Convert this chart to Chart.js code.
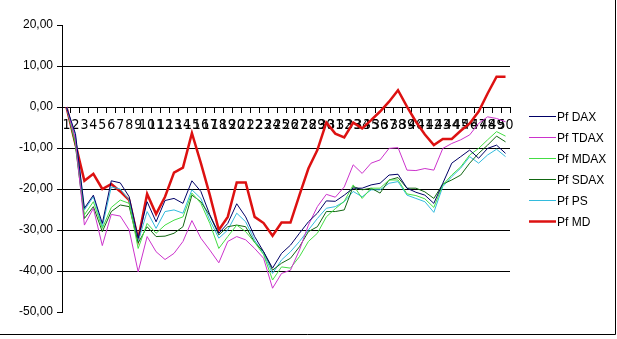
<!DOCTYPE html>
<html>
<head>
<meta charset="utf-8">
<script src="https://cdn.jsdelivr.net/npm/chart.js@4/dist/chart.umd.min.js"></script>
<style>
html,body{margin:0;padding:0;background:#fff;}
#wrap{position:relative;width:617px;height:339px;}
canvas{display:block;}
</style>
</head>
<body>
<div id="wrap"><canvas id="c" width="617" height="339"></canvas></div>
<script>
const categories = Array.from({length: 50}, (_, i) => String(i + 1));
const yTicks = [-50, -40, -30, -20, -10, 0, 10, 20];

const pfDAX = [0, -6.5, -24.7, -21.5, -28.4, -18, -18.5, -21.9, -32, -23.1,
  -28, -22.8, -22.3, -23.5, -18, -20.6, -26.3, -30.8, -28.4, -23.6,
  -26.8, -31.6, -35.3, -39.3, -35.7, -33.7, -30.8, -28, -25.9, -22.9,
  -23, -21.5, -19.8, -19.8, -19, -18.6, -16.6, -16.4, -19.8, -20.8,
  -21.5, -23.5, -18.6, -13.7, -12.1, -10.5, -12.5, -10.1, -9.3, -11.3];
const pfTDAX = [0, -8, -28.8, -24.7, -33.8, -26.2, -26.6, -30, -40.2, -31.6,
  -35.3, -37.2, -35.7, -32.8, -27.7, -32, -34.9, -38, -32.8, -31.6,
  -32.4, -34.5, -36.9, -44.2, -40.6, -39.8, -34.9, -28.8, -24.3, -21.3,
  -22, -19.5, -14.1, -16.2, -13.7, -12.9, -10.1, -9.9, -15.4, -15.5,
  -15, -15.4, -10.1, -8.9, -8, -6.8, -4, -2.4, -2.8, -3.6];
const pfMDAX = [0, -9, -26.3, -23.1, -29.6, -24.5, -22.7, -23.5, -34.5, -28.4,
  -30.8, -28.8, -27.6, -26.8, -21, -23.5, -28.4, -34.5, -31.6, -28.8,
  -30.4, -33, -36, -42.2, -39, -39.3, -36.5, -32.8, -30.8, -26.8,
  -24.8, -23, -19, -22.3, -19.8, -19.8, -17.8, -17.8, -21.2, -21.6,
  -22.4, -24.5, -19, -16.6, -14.6, -11.7, -10.1, -8, -6, -7.1];
const pfSDAX = [0, -9.5, -27.2, -24.3, -30.4, -25.5, -23.9, -24.3, -33.2, -29.2,
  -31.6, -31.5, -30.8, -29.2, -21.5, -23.1, -26.5, -31.2, -29.2, -28.8,
  -29.2, -33, -35.3, -39.8, -38.1, -36.9, -34.1, -30.4, -29.2, -25.5,
  -25.5, -25.1, -19.4, -20.2, -19.8, -21, -17.8, -17.2, -19.8, -19.8,
  -20.7, -22.3, -18.8, -17.8, -16.6, -13.7, -11.3, -9.3, -7.1, -8.5];
const pfPS = [0, -7, -25.1, -21.9, -29.2, -19.5, -20, -22.7, -32.8, -25.5,
  -29.6, -25.5, -25.1, -25.9, -20.2, -22.3, -27.6, -32, -30, -25.9,
  -28, -32.5, -35.8, -40.6, -37.3, -35.3, -32.8, -30, -27.2, -24.7,
  -24.3, -23.1, -20.6, -21.9, -20.2, -20.2, -18.6, -18.2, -21.5, -22.3,
  -23.1, -25.7, -19.4, -17, -14.9, -12.1, -13.7, -11.7, -10.3, -12.1];
const pfMD = [0, -9, -18, -16.3, -20, -18.8, -20.6, -22.7, -32.3, -21.2,
  -26.1, -21.9, -16, -14.8, -6.4, -13.7, -21.5, -30, -26.8, -18.4,
  -18.4, -26.8, -28.3, -31.4, -28.2, -28.2, -21.5, -15, -10.5, -3.8,
  -6.5, -7.4, -3.8, -5.2, -3.2, -1.1, 1.3, 4.1, 0.1, -3.6,
  -6.7, -9.3, -7.8, -7.8, -5.8, -4, -1.1, 3.3, 7.4, 7.4];

const seriesNames = ['Pf DAX', 'Pf TDAX', 'Pf MDAX', 'Pf SDAX', 'Pf PS', 'Pf MD'];
const seriesData = [pfDAX, pfTDAX, pfMDAX, pfSDAX, pfPS, pfMD];
const seriesColors = ['#000066', '#CC33CC', '#44DD44', '#116611', '#33BBDD', '#DD1111'];
const seriesWidths = [1, 1, 1, 1, 1, 2.5];

const FONT = '"Liberation Sans", Arial, sans-serif';
const NARROW = '"Liberation Sans Narrow", "DejaVu Sans Condensed", "Liberation Sans", Arial, sans-serif';

const legendPlugin = {
  id: 'customLegend',
  afterDraw(chart) {
    const ctx = chart.ctx;
    ctx.save();
    chart.data.datasets.forEach((ds, i) => {
      const y = 116.5 + i * 21;
      ctx.strokeStyle = ds.borderColor;
      ctx.lineWidth = ds.borderWidth;
      ctx.beginPath();
      ctx.moveTo(529, y);
      ctx.lineTo(556, y);
      ctx.stroke();
      ctx.fillStyle = '#000';
      ctx.font = '12px ' + FONT;
      ctx.textBaseline = 'middle';
      ctx.textAlign = 'left';
      ctx.fillText(ds.label, 557, y + 1);
    });
    ctx.strokeStyle = '#000';
    ctx.lineWidth = 1;
    ctx.beginPath();
    ctx.moveTo(0, 334.5);
    ctx.lineTo(615.5, 334.5);
    ctx.moveTo(615.5, 0);
    ctx.lineTo(615.5, 334.5);
    ctx.stroke();
    ctx.restore();
  }
};

new Chart(document.getElementById('c'), {
  type: 'line',
  data: {
    labels: categories,
    datasets: seriesData.map((d, i) => ({
      label: seriesNames[i],
      data: d,
      borderColor: seriesColors[i],
      backgroundColor: seriesColors[i],
      borderWidth: seriesWidths[i],
      pointRadius: 0,
      tension: 0,
      fill: false
    }))
  },
  options: {
    responsive: false,
    animation: false,
    devicePixelRatio: 1,
    layout: { padding: { left: 0, right: 107, top: 25, bottom: 27 } },
    plugins: { legend: { display: false }, tooltip: { enabled: false } },
    scales: {
      x: {
        type: 'category',
        position: { y: 0 },
        offset: true,
        grid: {
          offset: true,
          drawOnChartArea: false,
          drawTicks: true,
          tickLength: 5,
          tickColor: '#000',
          color: '#000'
        },
        border: { color: '#000', width: 1 },
        ticks: {
          autoSkip: false,
          maxRotation: 0,
          minRotation: 0,
          padding: 5,
          color: '#000',
          font: { family: NARROW, size: 14 }
        }
      },
      y: {
        min: -50,
        max: 20,
        afterBuildTicks(scale) { scale.ticks = yTicks.map(v => ({ value: v })); },
        afterFit(scale) { scale.width = 62; },
        grid: {
          color: (c) => (c.tick && (c.tick.value === 20 || c.tick.value === -50)) ? 'rgba(0,0,0,0)' : '#000',
          tickColor: '#000',
          tickLength: 5,
          drawTicks: true
        },
        border: { color: '#000', width: 1 },
        ticks: {
          color: '#000',
          padding: 4,
          font: { family: FONT, size: 12 },
          callback: (v) => v.toFixed(2).replace('.', ',')
        }
      }
    }
  },
  plugins: [legendPlugin]
});
</script>
</body>
</html>
